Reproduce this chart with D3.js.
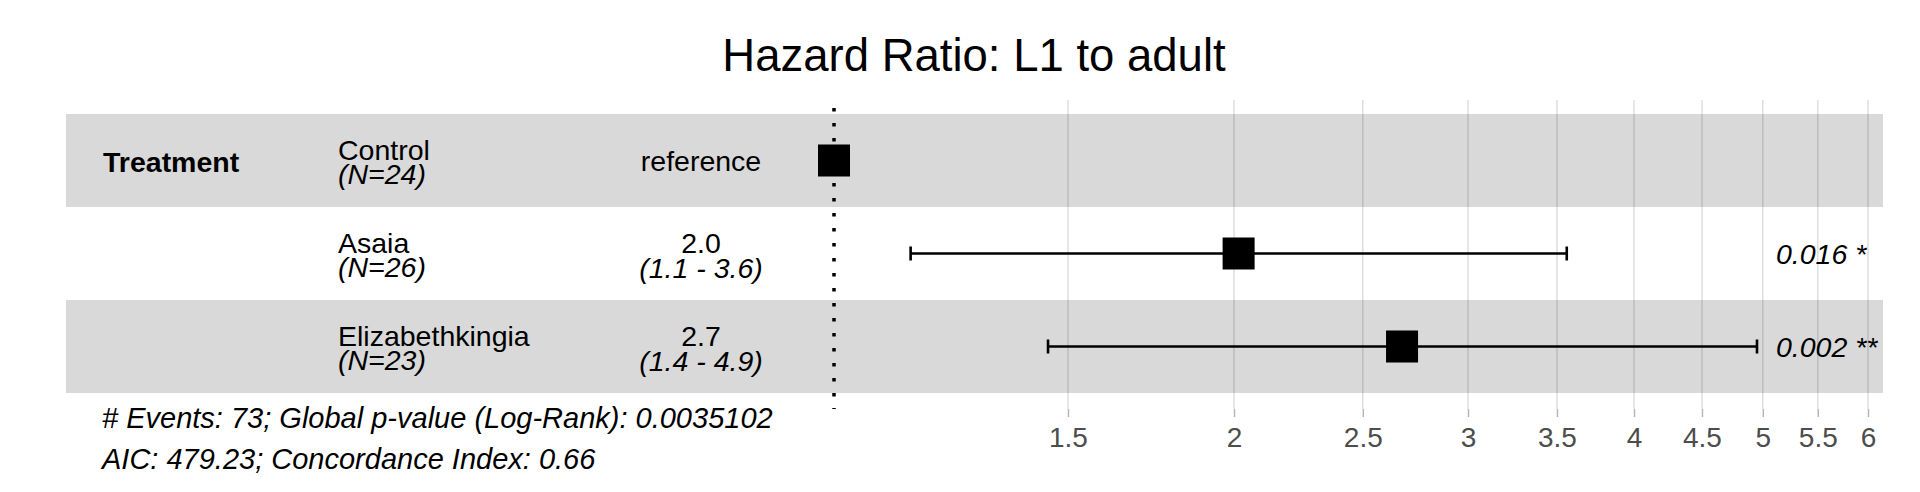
<!DOCTYPE html>
<html>
<head>
<meta charset="utf-8">
<script src="https://cdn.jsdelivr.net/npm/d3@7/dist/d3.min.js"></script>
<style>
  html, body { margin: 0; padding: 0; background: #fff; }
  svg text { font-family: "Liberation Sans", Arial, Helvetica, sans-serif; }
</style>
</head>
<body>
<svg id="chart" width="1920" height="492"></svg>
<script>
// values
const variable = "Treatment";
const groups = ["Control", "Asaia", "Elizabethkingia"];
const groupN = [24, 26, 23];
const hazard = [1, 2.016, 2.676];
const ciLow = [null, 1.142, 1.449];
const ciHigh = [null, 3.56, 4.95];
const estLabels = ["reference", "2.0", "2.7"];
const ciLabels = ["", "(1.1 - 3.6)", "(1.4 - 4.9)"];
const pLabels = ["", "0.016 *", "0.002 **"];
const tickValues = [1.5, 2, 2.5, 3, 3.5, 4, 4.5, 5, 5.5, 6];
const footnotes = [
    "# Events: 73; Global p-value (Log-Rank): 0.0035102",
    "AIC: 479.23; Concordance Index: 0.66"
];

const svg = d3.select("#chart");
const fs = 28.5;

const x = d3.scaleLog().domain([1, 6]).range([834, 1868]);
const y = d3.scaleBand().domain(groups).range([114, 393]).padding(0);
const panelTop = 100, panelBottom = 409;

// title
svg.append("text")
    .attr("x", 974).attr("y", 71)
    .attr("text-anchor", "middle")
    .style("font-size", "45.5px")
    .text("Hazard Ratio: L1 to adult");

// alternating bands
svg.selectAll(".band")
    .data(groups)
    .join("rect")
    .attr("class", "band")
    .attr("x", 66).attr("width", 1883 - 66)
    .attr("y", d => y(d)).attr("height", y.bandwidth())
    .attr("fill", (d, i) => i % 2 === 0 ? "#d9d9d9" : "#ffffff");

// grid + axis
const axis = svg.append("g")
    .attr("transform", `translate(0,${panelBottom})`)
    .call(d3.axisBottom(x).tickValues(tickValues).tickFormat(d3.format("")).tickSize(8).tickPadding(10));
axis.select(".domain").remove();
axis.selectAll(".tick line").attr("stroke", "#b3b3b3").attr("stroke-width", 1.4);
axis.selectAll(".tick text")
    .attr("fill", "#4d4d4d")
    .style("font-size", "28px")
    .style("font-family", "'Liberation Sans', Arial, sans-serif")
    .attr("dy", "0.71em");

svg.selectAll(".grid")
    .data(tickValues)
    .join("line")
    .attr("class", "grid")
    .attr("x1", d => x(d)).attr("x2", d => x(d))
    .attr("y1", panelTop).attr("y2", panelBottom)
    .attr("stroke", "#000").attr("stroke-opacity", 0.14).attr("stroke-width", 1.4);

// reference line at HR = 1
svg.append("line")
    .attr("x1", x(1)).attr("x2", x(1))
    .attr("y1", panelTop + 8).attr("y2", panelBottom)
    .attr("stroke", "#000").attr("stroke-width", 3.5)
    .attr("stroke-dasharray", "3.5,11.5");

// variable label
svg.append("text")
    .attr("x", 103).attr("y", y(groups[0]) + y.bandwidth() / 2 + 11)
    .style("font-size", fs + "px").style("font-weight", "bold")
    .text(variable);

// level names + N
const rows = svg.selectAll(".row")
    .data(groups.map((g, i) => ({ g, i })))
    .join("g")
    .attr("class", "row")
    .attr("transform", d => `translate(0,${y(d.g) + y.bandwidth() / 2})`);

rows.append("text")
    .attr("x", 338).attr("y", -1)
    .style("font-size", fs + "px")
    .text(d => d.g);
rows.append("text")
    .attr("x", 338).attr("y", 23)
    .style("font-size", fs + "px").style("font-style", "italic")
    .text(d => `(N=${groupN[d.i]})`);

// estimate column
rows.append("text")
    .attr("x", 701)
    .attr("y", d => ciLabels[d.i] ? -1 : 10)
    .attr("text-anchor", "middle")
    .style("font-size", fs + "px")
    .text(d => estLabels[d.i]);
rows.append("text")
    .attr("x", 701).attr("y", 24)
    .attr("text-anchor", "middle")
    .style("font-size", fs + "px").style("font-style", "italic")
    .text(d => ciLabels[d.i]);

// error bars
const withCI = rows.filter(d => ciLow[d.i] !== null);
withCI.append("line")
    .attr("x1", d => x(ciLow[d.i])).attr("x2", d => x(ciHigh[d.i]))
    .attr("y1", 0).attr("y2", 0)
    .attr("stroke", "#000").attr("stroke-width", 2.6);
withCI.selectAll(".cap")
    .data(d => [ciLow[d.i], ciHigh[d.i]])
    .join("line")
    .attr("class", "cap")
    .attr("x1", v => x(v)).attr("x2", v => x(v))
    .attr("y1", -7).attr("y2", 7)
    .attr("stroke", "#000").attr("stroke-width", 2.6);

// point estimates
const sq = 32;
rows.append("rect")
    .attr("x", d => x(hazard[d.i]) - sq / 2)
    .attr("y", -sq / 2)
    .attr("width", sq).attr("height", sq)
    .attr("fill", "#000");

// p-values
rows.append("text")
    .attr("x", 1776).attr("y", 10)
    .style("font-size", fs + "px").style("font-style", "italic")
    .text(d => pLabels[d.i]);

// footnotes
svg.selectAll(".foot")
    .data(footnotes)
    .join("text")
    .attr("class", "foot")
    .attr("x", 102)
    .attr("y", (d, i) => 428 + i * 41)
    .style("font-size", "29px").style("font-style", "italic")
    .text(d => d);
</script>
</body>
</html>
